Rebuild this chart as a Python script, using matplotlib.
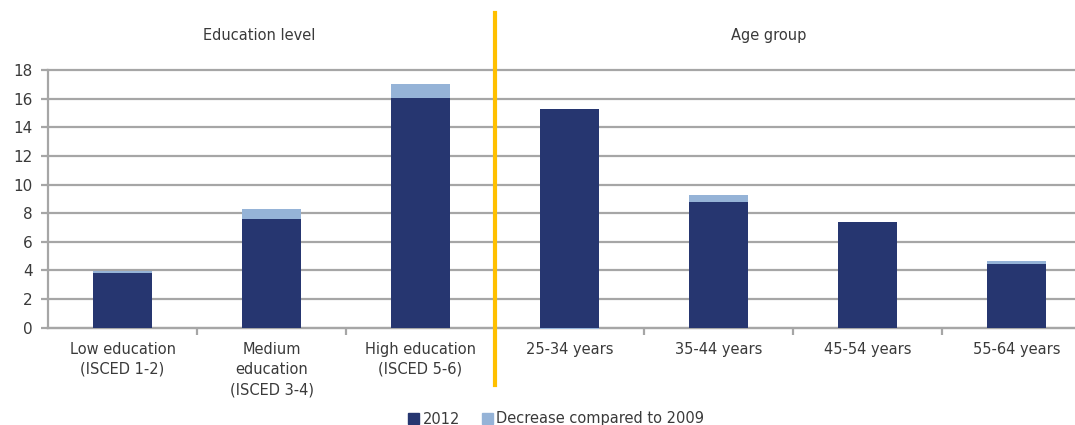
import matplotlib.pyplot as plt
from matplotlib.patches import Patch

# data
categories = [
    "Low education\n(ISCED 1-2)",
    "Medium\neducation\n(ISCED 3-4)",
    "High education\n(ISCED 5-6)",
    "25-34 years",
    "35-44 years",
    "45-54 years",
    "55-64 years",
]
values_2012 = [3.85, 7.6, 16.05, 15.3, 8.8, 7.35, 4.45]
decrease_vs_2009 = [0.12, 0.7, 1.0, -0.12, 0.45, 0.06, 0.22]
yticks = list(range(0, 19, 2))

DARK = "#263670"
LIGHT = "#95B3D7"
GRID = "#A6A6A6"
TEXT = "#3A3A3A"
ORANGE = "#FFC000"

W, H = 1075, 425
fig = plt.figure(figsize=(W / 100, H / 100), dpi=100)
# plot area: left axis at x=48px, category width ~149px (right part is cropped)
left, right = 48, 48 + 7 * 149
bottom_px, top_px = 327.7, 70
ax = fig.add_axes([left / W, (H - bottom_px) / H, (right - left) / W, (bottom_px - top_px) / H])

x = list(range(len(categories)))
ax.bar(x, values_2012, width=0.39, color=DARK, zorder=3, clip_on=False)
bottoms = [v if d >= 0 else 0 for v, d in zip(values_2012, decrease_vs_2009)]
ax.bar(x, decrease_vs_2009, width=0.39, bottom=bottoms, color=LIGHT, zorder=3, clip_on=False)

ax.set_xlim(-0.5, 6.5)
ax.set_ylim(0, 18)
ax.set_yticks(yticks)
ax.yaxis.grid(True, color=GRID, linewidth=1.6, zorder=0)
ax.set_axisbelow(True)
for gl in ax.yaxis.get_gridlines():
    gl.set_clip_on(False)

for s in ["top", "right"]:
    ax.spines[s].set_visible(False)
for s in ["left", "bottom"]:
    ax.spines[s].set_color(GRID)
    ax.spines[s].set_linewidth(1.6)

ax.set_xticks(x)
ax.set_xticklabels(categories, fontsize=10.5, color=TEXT, linespacing=1.45)
ax.set_xticks([i + 0.5 for i in x[:-1]], minor=True)
ax.tick_params(axis="x", which="major", length=0, pad=10)
ax.tick_params(axis="x", which="minor", length=5, width=1.6, color=GRID)
ax.tick_params(axis="y", length=5, width=1.6, color=GRID, labelsize=11, labelcolor=TEXT, pad=6)

# divider between the two groups
ax.plot([2.5, 2.5], [-4.0, 22.0], color=ORANGE, linewidth=3, clip_on=False, zorder=4)

ax.text(0.916, 20.4, "Education level", ha="center", va="center", fontsize=10.5, color=TEXT)
ax.text(4.34, 20.4, "Age group", ha="center", va="center", fontsize=10.5, color=TEXT)

handles = [Patch(color=DARK, label="2012"), Patch(color=LIGHT, label="Decrease compared to 2009")]
fig.legend(handles=handles, loc="center", bbox_to_anchor=(556 / W, 6 / H), ncol=2,
           frameon=False, fontsize=10.5, handlelength=0.8, handleheight=0.8,
           handletextpad=0.2, columnspacing=1.5, labelcolor=TEXT)

plt.savefig("out.png", dpi=100)
